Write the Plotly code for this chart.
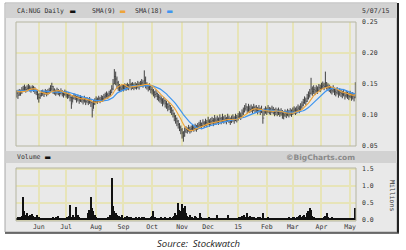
import pandas as pd
import plotly.graph_objects as go

# ---------------- data ----------------
start_date = "2014-05-08"
prior_close = [.142, .140, .143, .141, .139, .142, .140, .138, .141, .143, .140, .139, .141, .138, .140, .137, .139]

close = [
    .135, .132, .138, .136, .140,  .142, .144, .141, .143, .145,  .143, .141, .144, .142, .140,
    .137, .133, .128, .131, .135,  .136, .134, .138, .135, .137,  .139, .142, .146, .140, .138,
    .136, .139, .137, .135, .138,  .135, .133, .136, .134, .131,  .132, .128, .118, .127, .130,
    .129, .126, .128, .124, .127,  .125, .123, .126, .122, .124,  .121, .124, .120, .108, .118,
    .122, .125, .123, .126, .124,  .127, .126, .129, .131, .133,  .131, .134, .136, .142, .150,
    .162, .158, .152, .147, .144,  .142, .145, .143, .146, .144,  .147, .145, .149, .146, .148,
    .145, .148, .146, .149, .147,  .150, .152, .149, .156, .150,  .147, .144, .146, .141, .139,
    .136, .133, .135, .130, .128,  .126, .124, .121, .123, .119,  .117, .113, .115, .110, .107,
    .102, .098, .094, .090, .085,  .080, .076, .071, .066, .074,  .077, .075, .079, .076, .078,
    .080, .078, .081, .079, .082,  .084, .086, .083, .087, .085,  .088, .086, .090, .087, .089,
    .091, .088, .092, .090, .093,  .090, .094, .091, .095, .092,  .094, .091, .095, .093, .090,
    .093, .095, .092, .096, .094,  .097, .100, .098, .103, .106,  .110, .113, .108, .111, .109,
    .111, .108, .112, .109, .110,  .107, .110, .106, .109, .095,  .105, .108, .106, .109, .107,
    .106, .109, .107, .104, .106,  .104, .106, .103, .105, .102,  .100, .103, .101, .104, .102,
    .105, .103, .106, .108, .106,  .108, .111, .109, .113, .116,  .120, .124, .122, .127, .131,
    .135, .142, .138, .141, .139,  .142, .140, .144, .143, .146,  .148, .146, .152, .147, .145,
    .143, .141, .139, .142, .138,  .136, .139, .134, .137, .135,  .133, .136, .131, .134, .132,
    .130, .133, .129, .131, .128,  .150,
]
high = [
    .140, .138, .142, .141, .145,  .147, .149, .146, .148, .150,  .148, .146, .148, .147, .145,
    .142, .139, .135, .136, .140,  .141, .139, .142, .140, .142,  .144, .148, .152, .147, .143,
    .141, .144, .142, .140, .143,  .140, .138, .141, .139, .136,  .137, .134, .130, .132, .135,
    .134, .131, .133, .130, .132,  .130, .128, .131, .127, .129,  .127, .129, .126, .122, .124,
    .127, .130, .128, .131, .129,  .132, .131, .134, .136, .138,  .136, .139, .141, .148, .158,
    .174, .170, .162, .155, .150,  .148, .150, .149, .151, .150,  .152, .150, .158, .152, .153,
    .151, .153, .151, .155, .153,  .155, .158, .156, .172, .162,  .153, .150, .151, .147, .145,
    .142, .139, .141, .136, .134,  .132, .130, .127, .129, .125,  .123, .119, .121, .116, .113,
    .109, .104, .100, .096, .092,  .087, .083, .079, .074, .080,  .082, .080, .084, .081, .083,
    .085, .083, .086, .084, .087,  .089, .092, .088, .093, .090,  .094, .092, .097, .093, .095,
    .097, .095, .100, .096, .099,  .096, .101, .097, .102, .098,  .100, .097, .102, .099, .096,
    .099, .101, .098, .102, .100,  .103, .106, .104, .109, .112,  .116, .119, .114, .118, .115,
    .117, .114, .118, .115, .116,  .113, .116, .112, .115, .108,  .111, .114, .112, .116, .113,
    .112, .115, .113, .110, .112,  .110, .112, .109, .111, .108,  .106, .109, .107, .110, .108,
    .111, .109, .112, .114, .112,  .114, .117, .115, .119, .122,  .126, .130, .128, .134, .138,
    .142, .160, .146, .148, .145,  .148, .146, .150, .149, .152,  .154, .152, .170, .153, .151,
    .149, .147, .145, .148, .144,  .142, .145, .140, .143, .141,  .139, .142, .137, .140, .138,
    .136, .139, .135, .137, .134,  .153,
]
low = [
    .128, .126, .131, .131, .134,  .137, .138, .136, .138, .140,  .138, .136, .139, .137, .134,
    .132, .125, .120, .126, .130,  .131, .129, .133, .130, .132,  .134, .136, .139, .134, .133,
    .131, .133, .132, .130, .133,  .130, .128, .131, .128, .126,  .127, .122, .110, .120, .125,
    .124, .120, .122, .118, .121,  .120, .117, .120, .116, .119,  .116, .118, .113, .096, .110,
    .116, .119, .118, .121, .119,  .122, .121, .124, .126, .128,  .126, .129, .131, .135, .140,
    .150, .148, .142, .139, .138,  .137, .140, .138, .140, .139,  .141, .140, .143, .140, .142,
    .140, .142, .141, .143, .141,  .145, .146, .144, .147, .143,  .141, .138, .140, .135, .133,
    .130, .127, .129, .124, .122,  .120, .118, .114, .117, .112,  .110, .106, .108, .103, .100,
    .096, .090, .086, .082, .078,  .074, .069, .062, .057, .065,  .071, .070, .073, .070, .072,
    .074, .073, .075, .073, .076,  .078, .080, .077, .081, .079,  .082, .080, .084, .081, .083,
    .085, .082, .086, .084, .087,  .084, .088, .085, .089, .086,  .088, .085, .089, .087, .084,
    .087, .089, .086, .090, .088,  .091, .094, .092, .097, .100,  .104, .107, .102, .105, .103,
    .105, .102, .106, .103, .104,  .101, .104, .100, .103, .086,  .099, .102, .100, .103, .101,
    .100, .103, .101, .098, .100,  .098, .100, .097, .099, .094,  .093, .097, .095, .098, .096,
    .099, .097, .100, .102, .100,  .102, .105, .103, .107, .110,  .114, .118, .116, .121, .125,
    .128, .133, .131, .134, .132,  .136, .134, .138, .137, .140,  .142, .140, .144, .141, .139,
    .137, .135, .133, .136, .132,  .130, .133, .128, .131, .129,  .127, .130, .125, .128, .126,
    .124, .127, .123, .125, .122,  .127,
]
volume_m = [
    .05, .08, .06, .10, .12,  .68, .25, .15, .20, .12,  .15, .10, .18, .12, .08,
    .10, .14, .08, .06, .05,  .04, .03, .05, .04, .03,  .05, .04, .06, .08, .05,
    .10, .06, .12, .05, .04,  .03, .05, .04, .06, .08,  .12, .44, .10, .15, .06,
    .10, .38, .15, .08, .05,  .04, .06, .05, .03, .04,  .20, .30, .68, .35, .25,
    .15, .08, .05, .04, .06,  .05, .04, .07, .06, .05,  .10, .08, .15, 1.24, .40,
    .25, .20, .15, .10, .12,  .08, .15, .06, .10, .05,  .12, .08, .05, .10, .06,
    .04, .06, .10, .05, .08,  .06, .10, .05, .08, .04,  .05, .06, .04, .08, .12,
    .26, .08, .06, .05, .04,  .06, .10, .05, .04, .08,  .05, .04, .06, .10, .05,
    .08, .12, .20, .15, .50,  .30, .25, .47, .35, .40,  .20, .12, .10, .15, .08,
    .10, .06, .12, .08, .05,  .06, .20, .08, .05, .04,  .04, .06, .05, .08, .04,
    .05, .04, .06, .05, .15,  .06, .05, .04, .06, .05,  .04, .05, .15, .06, .04,
    .03, .04, .05, .03, .04,  .06, .10, .08, .12, .06,  .15, .10, .20, .08, .12,
    .06, .10, .08, .05, .06,  .08, .05, .10, .06, .20,  .06, .04, .05, .08, .04,
    .03, .05, .06, .04, .05,  .04, .06, .05, .03, .06,  .05, .04, .06, .05, .08,
    .06, .05, .08, .10, .06,  .08, .10, .12, .15, .10,  .12, .15, .10, .20, .25,
    .35, .30, .12, .08, .06,  .05, .04, .06, .05, .04,  .06, .10, .12, .20, .08,
    .06, .05, .08, .05, .04,  .05, .06, .04, .05, .06,  .04, .05, .06, .04, .05,
    .06, .04, .05, .06, .04,  .35,
]
month_labels = ["Jun", "Jul", "Aug", "Sep", "Oct", "Nov", "Dec", "15", "Feb", "Mar", "Apr", "May"]
price_ticks = [0.05, 0.10, 0.15, 0.20, 0.25]
volume_ticks = [0.0, 0.5, 1.0, 1.5]

# ---------------- derived ----------------
dates = pd.bdate_range(start_date, periods=len(close))
cats = [d.strftime("%Y-%m-%d") for d in dates]
all_close = pd.Series(prior_close + close)
sma9 = all_close.rolling(9).mean().iloc[len(prior_close):].tolist()
sma18 = all_close.rolling(18).mean().iloc[len(prior_close):].tolist()
opens = [prior_close[-1]] + close[:-1]

month_ticks = []
seen = set()
for d, c in zip(dates, cats):
    key = (d.year, d.month)
    if key not in seen:
        seen.add(key)
        month_ticks.append(c)
month_ticks = month_ticks[1:]  # skip the partial first month

W, H = 406, 250
def px(x):
    return x / W
def py(y):
    return 1 - y / H

MONO = "DejaVu Sans Mono"
TXT = "#333333"
GRID = "#e7e4b8"
PLOTBG = "#fffee4"

fig = go.Figure()
fig.add_trace(go.Ohlc(
    x=cats, open=opens, high=high, low=low, close=close,
    increasing=dict(line=dict(color="#303030", width=0.9)),
    decreasing=dict(line=dict(color="#303030", width=0.9)),
    tickwidth=0.35, xaxis="x", yaxis="y", showlegend=False, hoverinfo="skip",
))
fig.add_trace(go.Scatter(x=cats, y=sma18, mode="lines", line=dict(color="#3f95ef", width=1.2),
                         xaxis="x", yaxis="y", showlegend=False, hoverinfo="skip"))
fig.add_trace(go.Scatter(x=cats, y=sma9, mode="lines", line=dict(color="#eea43a", width=1.1),
                         xaxis="x", yaxis="y", showlegend=False, hoverinfo="skip"))
fig.add_trace(go.Bar(x=cats, y=volume_m, marker=dict(color="#111111", line=dict(width=0)),
                     xaxis="x2", yaxis="y2", showlegend=False, hoverinfo="skip"))

xdom = [px(16), px(356)]
xr = [-0.5, len(cats) - 0.5]
common_x = dict(type="category", range=xr, domain=xdom, tickmode="array", tickvals=month_ticks,
                showgrid=True, gridcolor=GRID, gridwidth=1.5, zeroline=False, ticks="",
                showline=False, automargin=False, fixedrange=True)
fig.update_layout(
    template="none",
    width=W, height=H, autosize=False,
    margin=dict(l=0, r=0, t=0, b=0, pad=0),
    paper_bgcolor="white", plot_bgcolor=PLOTBG,
    bargap=0,
    font=dict(family=MONO, size=7, color=TXT),
    xaxis=dict(**common_x, anchor="y", showticklabels=False, rangeslider=dict(visible=False)),
    xaxis2=dict(**common_x, anchor="y2", showticklabels=True, ticktext=month_labels,
                tickfont=dict(family=MONO, size=6.5, color=TXT)),
    yaxis=dict(domain=[py(146), py(22)], range=[0.05, 0.25], side="right", anchor="x",
               tickmode="array", tickvals=price_ticks, ticktext=[f"{v:.2f}" for v in price_ticks],
               showgrid=True, gridcolor=GRID, gridwidth=1.5, zeroline=False, ticks="",
               ticklabelstandoff=5, tickfont=dict(family=MONO, size=6.5, color=TXT),
               automargin=False, fixedrange=True),
    yaxis2=dict(domain=[py(221), py(168)], range=[-0.03, 1.53], side="right", anchor="x2",
                tickmode="array", tickvals=volume_ticks, ticktext=[f"{v:.1f}" for v in volume_ticks],
                showgrid=True, gridcolor=GRID, gridwidth=1.5, zeroline=False, ticks="",
                ticklabelstandoff=5, tickfont=dict(family=MONO, size=6.5, color=TXT),
                automargin=False, fixedrange=True),
)

shapes = [
    dict(type="rect", xref="paper", yref="paper", x0=px(5), x1=px(397), y0=py(232), y1=py(3),
         fillcolor="#e9e9e9", line=dict(color="#a8a8a8", width=1), layer="below"),
    dict(type="rect", xref="paper", yref="paper", x0=px(5.5), x1=px(397), y0=py(18), y1=py(3.5),
         fillcolor="#d2d2d2", line=dict(width=0), layer="below"),
    dict(type="rect", xref="paper", yref="paper", x0=px(5.5), x1=px(397), y0=py(163), y1=py(151),
         fillcolor="#d2d2d2", line=dict(width=0), layer="below"),
    dict(type="line", xref="paper", yref="paper", x0=px(398), x1=px(398), y0=py(233), y1=py(3),
         line=dict(color="#222222", width=2)),
    dict(type="line", xref="paper", yref="paper", x0=px(5), x1=px(399), y0=py(233), y1=py(233),
         line=dict(color="#444444", width=1.5)),
    dict(type="rect", xref="paper", yref="paper", x0=px(16), x1=px(356), y0=py(146), y1=py(22),
         line=dict(color="#b5b5a0", width=1)),
    dict(type="rect", xref="paper", yref="paper", x0=px(16), x1=px(356), y0=py(221), y1=py(168),
         line=dict(color="#b5b5a0", width=1)),
]
fig.update_layout(shapes=shapes)

def ann(text, x, y, xanchor="left", color=TXT, size=6.5, family=MONO, angle=0):
    return dict(text=text, x=px(x), y=py(y), xref="paper", yref="paper", xanchor=xanchor,
                yanchor="middle", showarrow=False, textangle=angle,
                font=dict(family=family, size=size, color=color))

annotations = [
    ann("CA:NUG Daily", 15, 11),
    ann("▬", 68, 11, color="#111111", size=9),
    ann("SMA(9)", 90, 11),
    ann("▬", 118, 11, color="#eea43a", size=9),
    ann("SMA(18)", 133, 11),
    ann("▬", 165, 11, color="#3f95ef", size=9),
    ann("5/07/15", 360, 11),
    ann("Volume", 15, 157),
    ann("▬", 43, 157, color="#111111", size=9),
    ann("<b>©BigCharts.com</b>", 357, 157, xanchor="right", color="#8a8a8a", size=7.5,
        family="DejaVu Sans"),
    ann("Millions", 392, 195, xanchor="center", angle=90, size=6.5),
    ann("<i>Source:  Stockwatch</i>", 198, 243, xanchor="center", color="#222222", size=9.5,
        family="Open Sans"),
]
fig.update_layout(annotations=annotations)

fig.write_html("out.html")
